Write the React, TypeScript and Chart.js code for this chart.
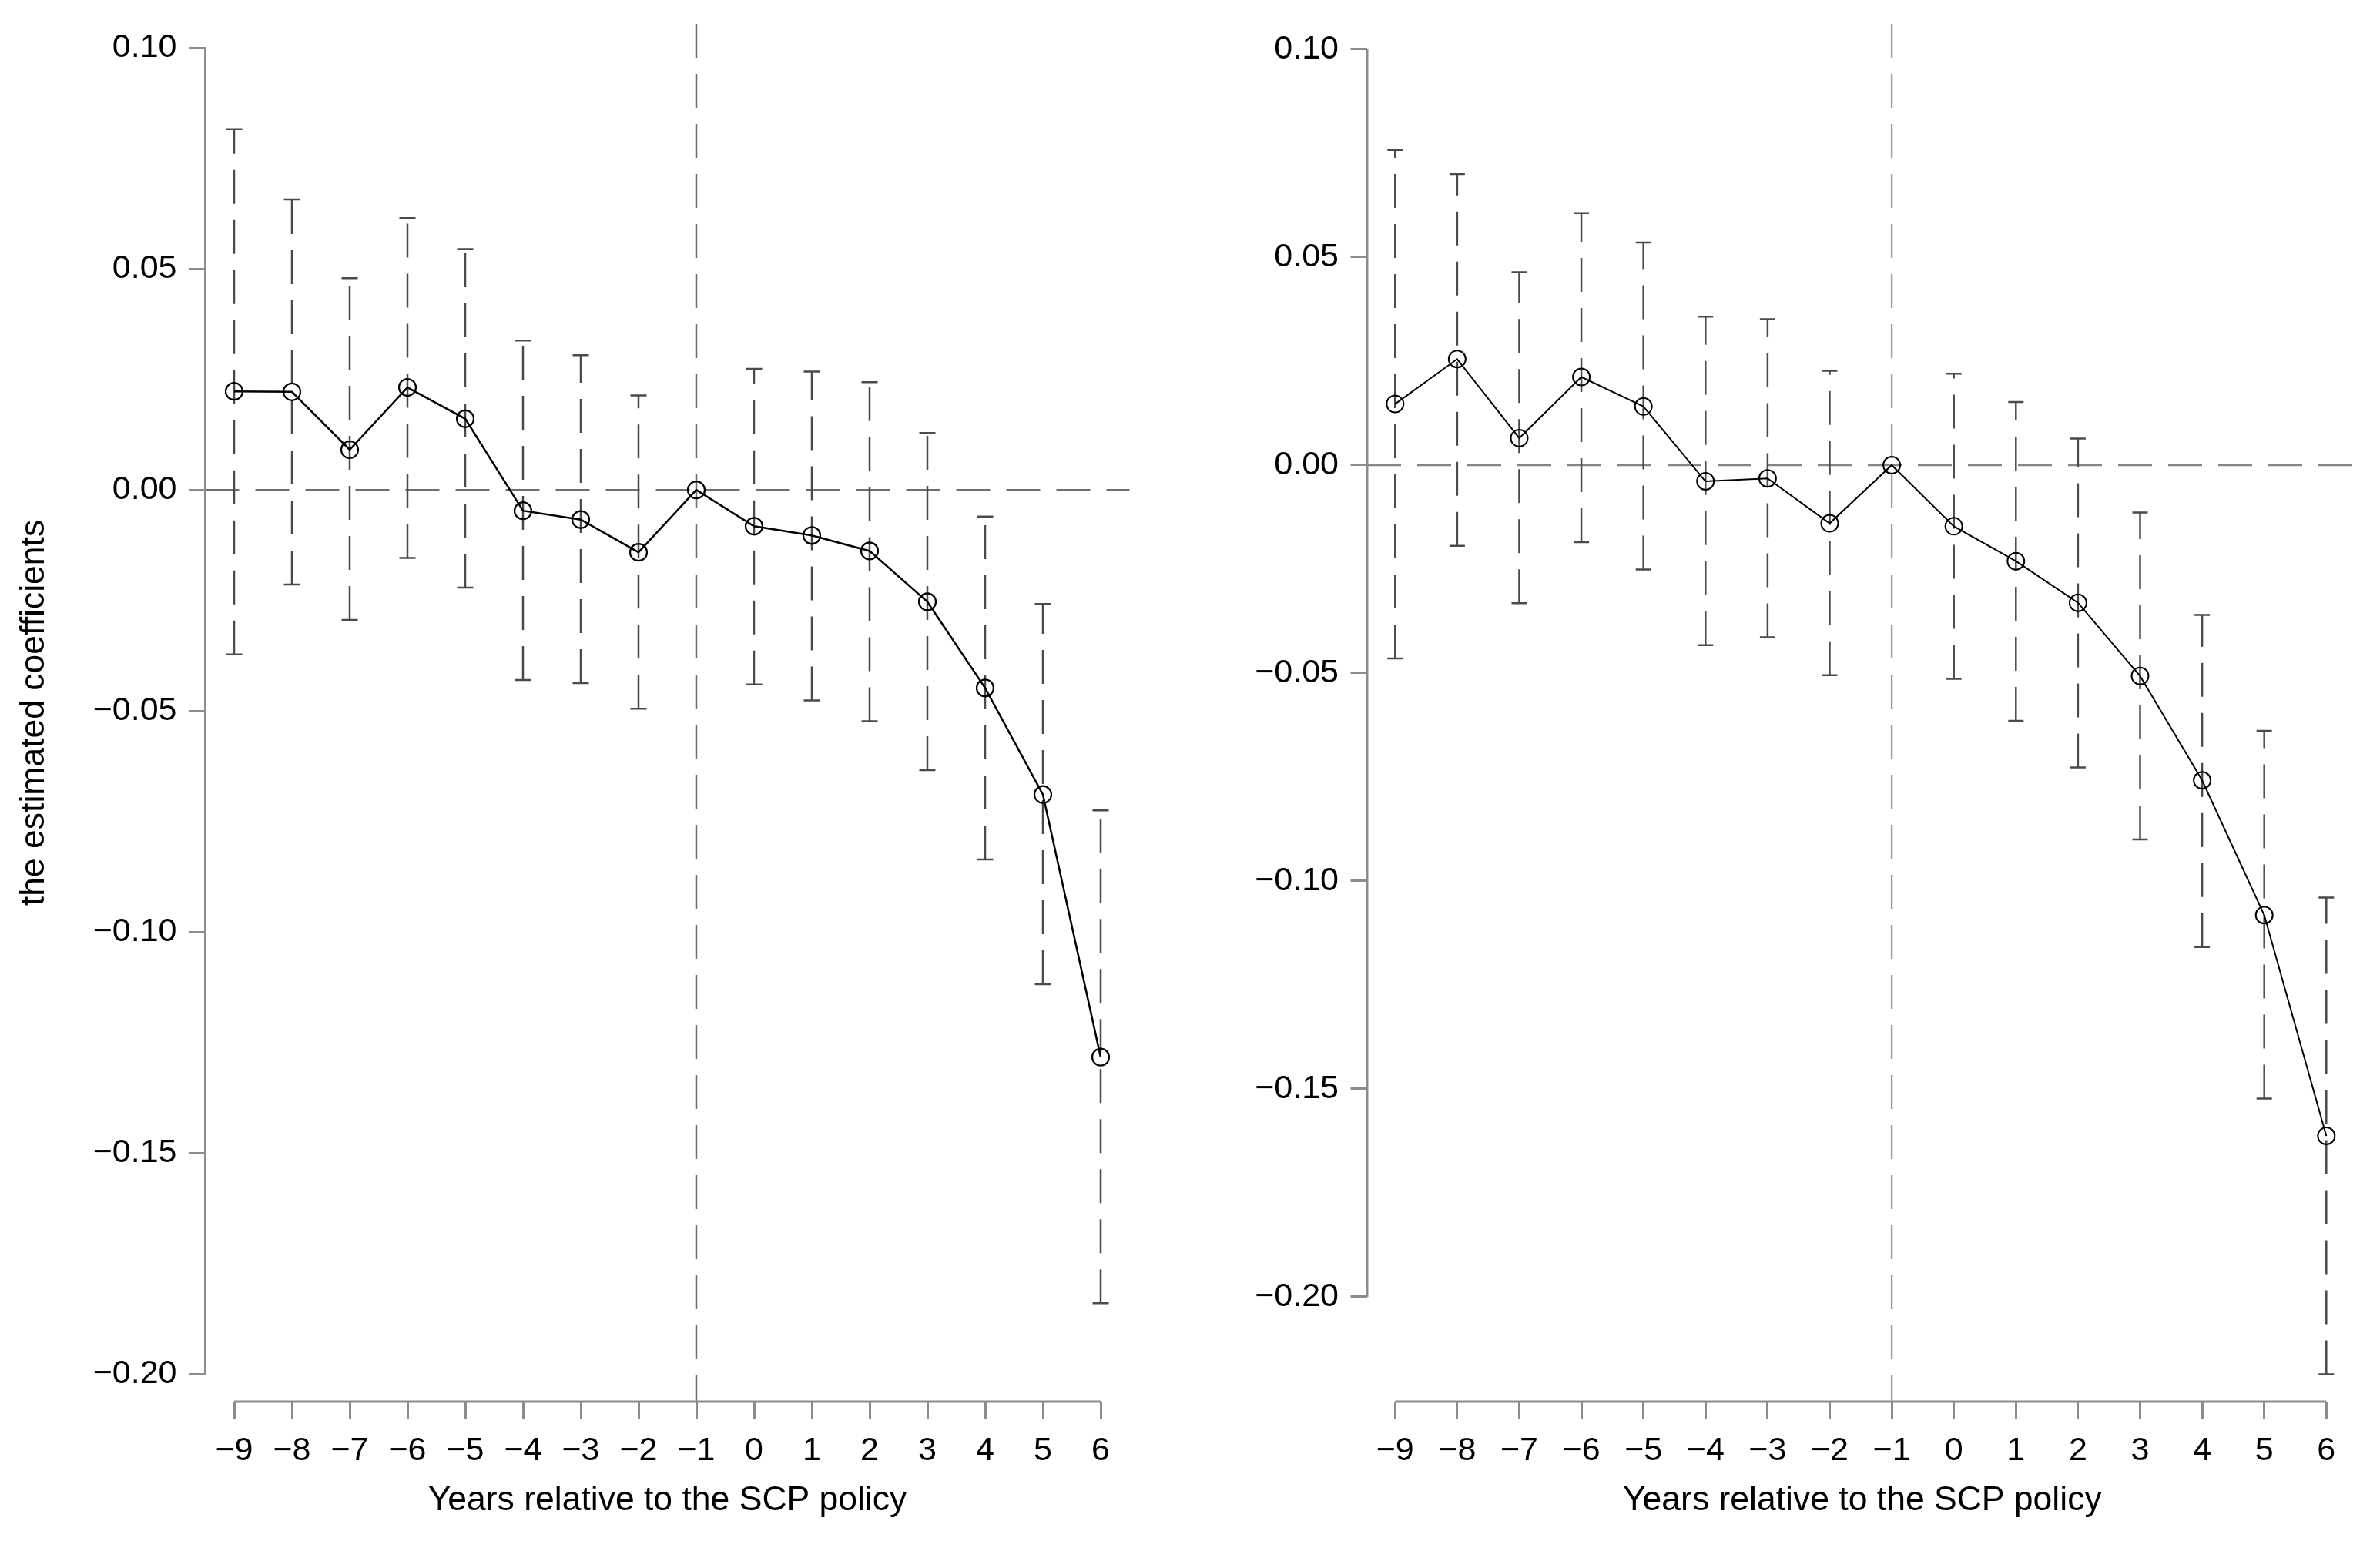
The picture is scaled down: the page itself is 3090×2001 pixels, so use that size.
import React, { useEffect, useRef } from "react";
import { Chart, registerables } from "chart.js";

Chart.register(...registerables);

// ---------------- data ----------------
const years = [-9, -8, -7, -6, -5, -4, -3, -2, -1, 0, 1, 2, 3, 4, 5, 6];
const yTickValues = [-0.2, -0.15, -0.1, -0.05, 0, 0.05, 0.1];
const referenceYear = -1;
const referenceLevel = 0;

const leftCoef = [0.0223, 0.0222, 0.0091, 0.0232, 0.0161, -0.0047, -0.0067, -0.0141, 0, -0.0082, -0.0103, -0.0138, -0.0253, -0.0448, -0.0689, -0.1283];
const leftUpper = [0.0816, 0.0657, 0.0479, 0.0615, 0.0545, 0.0338, 0.0305, 0.0214, null, 0.0274, 0.0268, 0.0244, 0.0129, -0.006, -0.0258, -0.0725];
const leftLower = [-0.0372, -0.0214, -0.0294, -0.0154, -0.0221, -0.043, -0.0437, -0.0495, null, -0.044, -0.0476, -0.0523, -0.0634, -0.0836, -0.1118, -0.184];

const rightCoef = [0.0147, 0.0255, 0.0065, 0.0212, 0.0141, -0.0039, -0.0032, -0.014, 0, -0.0147, -0.0231, -0.0331, -0.0507, -0.0758, -0.1082, -0.1613];
const rightUpper = [0.0758, 0.07, 0.0464, 0.0606, 0.0535, 0.0357, 0.0351, 0.0227, null, 0.022, 0.0152, 0.0064, -0.0114, -0.036, -0.0639, -0.104];
const rightLower = [-0.0465, -0.0194, -0.0332, -0.0185, -0.0251, -0.0433, -0.0414, -0.0505, null, -0.0514, -0.0615, -0.0727, -0.09, -0.1159, -0.1523, -0.2186];

const xAxisTitle = "Years relative to the SCP policy";
const yAxisTitle = "the estimated coefficients";

// ---------------- style ----------------
const FONT = "'Liberation Sans', Arial, Helvetica, sans-serif";
const AXIS_COLOR = "#8c8c8c";
const DASH = [44, 21];

type PanelCfg = {
  xMin: number;
  xMax: number;
  yMin: number;
  yMax: number;
  yWidth: number;
  padRight: number;
  yTitle?: string;
  lineWidth: number;
  pointBorder: number;
  hRefColor: string;
  vRefColor: string;
  errColor: string;
  errWidth: number;
  capHalf: number;
};

const leftCfg: PanelCfg = {
  xMin: -9.5,
  xMax: 6.5,
  yMin: -0.20624,
  yMax: 0.10544,
  yWidth: 266.5,
  padRight: 78.5,
  yTitle: yAxisTitle,
  lineWidth: 2.5,
  pointBorder: 2.2,
  hRefColor: "#6e6e6e",
  vRefColor: "#6e6e6e",
  errColor: "#4a4a4a",
  errWidth: 2.5,
  capHalf: 10.5,
};

const rightCfg: PanelCfg = {
  xMin: -9.45,
  xMax: 6.5,
  yMin: -0.22519,
  yMax: 0.10611,
  yWidth: 230,
  padRight: 29.4,
  lineWidth: 2,
  pointBorder: 2,
  hRefColor: "#858585",
  vRefColor: "#a3a3a3",
  errColor: "#4a4a4a",
  errWidth: 2.5,
  capHalf: 10,
};

const fmtX = (v: number) => (v < 0 ? "\u2212" + Math.abs(v) : String(v));
const fmtY = (v: number) => (v < 0 ? "\u2212" : "") + Math.abs(v).toFixed(2);

function Panel(props: {
  coef: number[];
  upper: (number | null)[];
  lower: (number | null)[];
  cfg: PanelCfg;
  left: number;
}) {
  const { coef, upper, lower, cfg, left } = props;
  const ref = useRef<HTMLCanvasElement | null>(null);

  useEffect(() => {
    const canvas = ref.current;
    if (!canvas) return;

    const decorPlugin = {
      id: "decor",
      beforeDatasetsDraw(chart: any) {
        const { ctx, chartArea: a, scales } = chart;
        const xs = scales.x;
        const ys = scales.y;
        ctx.save();
        ctx.lineCap = "butt";

        // reference lines
        ctx.lineWidth = 2.5;
        ctx.setLineDash(DASH);
        ctx.strokeStyle = cfg.hRefColor;
        const y0 = ys.getPixelForValue(referenceLevel);
        ctx.beginPath();
        ctx.moveTo(a.left, y0);
        ctx.lineTo(a.right, y0);
        ctx.stroke();
        ctx.strokeStyle = cfg.vRefColor;
        const xr = xs.getPixelForValue(referenceYear);
        ctx.beginPath();
        ctx.moveTo(xr, a.top);
        ctx.lineTo(xr, a.bottom);
        ctx.stroke();

        // error bars
        ctx.strokeStyle = cfg.errColor;
        ctx.lineWidth = cfg.errWidth;
        years.forEach((yr, i) => {
          const lo = lower[i];
          const hi = upper[i];
          if (lo == null || hi == null) return;
          const px = xs.getPixelForValue(yr);
          const pl = ys.getPixelForValue(lo);
          const pu = ys.getPixelForValue(hi);
          ctx.setLineDash(DASH);
          ctx.beginPath();
          ctx.moveTo(px, pl);
          ctx.lineTo(px, pu);
          ctx.stroke();
          ctx.setLineDash([]);
          ctx.beginPath();
          ctx.moveTo(px - cfg.capHalf, pl);
          ctx.lineTo(px + cfg.capHalf, pl);
          ctx.moveTo(px - cfg.capHalf, pu);
          ctx.lineTo(px + cfg.capHalf, pu);
          ctx.stroke();
        });

        // axis lines (first to last tick, R style)
        ctx.setLineDash([]);
        ctx.strokeStyle = AXIS_COLOR;
        ctx.lineWidth = 3;
        ctx.beginPath();
        ctx.moveTo(a.left, ys.getPixelForValue(yTickValues[0]));
        ctx.lineTo(a.left, ys.getPixelForValue(yTickValues[yTickValues.length - 1]));
        ctx.moveTo(xs.getPixelForValue(years[0]), a.bottom);
        ctx.lineTo(xs.getPixelForValue(years[years.length - 1]), a.bottom);
        ctx.stroke();
        ctx.restore();
      },
    };

    const chart = new Chart(canvas, {
      type: "line",
      data: {
        datasets: [
          {
            data: years.map((x, i) => ({ x, y: coef[i] })),
            borderColor: "#000000",
            borderWidth: cfg.lineWidth,
            pointRadius: 11,
            pointHoverRadius: 11,
            pointBorderWidth: cfg.pointBorder,
            pointBorderColor: "#000000",
            pointBackgroundColor: "rgba(0,0,0,0)",
            pointStyle: "circle",
            tension: 0,
            fill: false,
          },
        ],
      },
      options: {
        responsive: false,
        animation: false,
        devicePixelRatio: 1,
        events: [],
        layout: { padding: { left: 0, top: 31, right: cfg.padRight, bottom: 0 } },
        plugins: {
          legend: { display: false },
          tooltip: { enabled: false },
          title: { display: false },
        },
        scales: {
          x: {
            type: "linear",
            min: cfg.xMin,
            max: cfg.xMax,
            afterBuildTicks: (s: any) => {
              s.ticks = years.map((v) => ({ value: v }));
            },
            afterFit: (s: any) => {
              s.height = 181;
              s.paddingLeft = 0;
              s.paddingRight = 0;
            },
            ticks: {
              autoSkip: false,
              maxRotation: 0,
              minRotation: 0,
              padding: 15.7,
              color: "#000000",
              font: { family: FONT, size: 43 },
              callback: (v: any) => fmtX(Number(v)),
            },
            grid: {
              display: true,
              drawOnChartArea: false,
              drawTicks: true,
              tickLength: 23,
              color: AXIS_COLOR,
              lineWidth: 3,
            },
            border: { display: false },
            title: {
              display: true,
              text: xAxisTitle,
              color: "#000000",
              font: { family: FONT, size: 44.5 },
              padding: { top: 0, bottom: 25.3 },
            },
          },
          y: {
            type: "linear",
            min: cfg.yMin,
            max: cfg.yMax,
            afterBuildTicks: (s: any) => {
              s.ticks = yTickValues.map((v) => ({ value: v }));
            },
            afterFit: (s: any) => {
              s.width = cfg.yWidth;
              s.paddingTop = 0;
              s.paddingBottom = 0;
            },
            ticks: {
              padding: 15.5,
              color: "#000000",
              font: { family: FONT, size: 43 },
              callback: (v: any) => fmtY(Number(v)),
            },
            grid: {
              display: true,
              drawOnChartArea: false,
              drawTicks: true,
              tickLength: 21.5,
              color: AXIS_COLOR,
              lineWidth: 3,
            },
            border: { display: false },
            title: {
              display: !!cfg.yTitle,
              text: cfg.yTitle || "",
              color: "#000000",
              font: { family: FONT, size: 44.5 },
              padding: { top: 18.5, bottom: 0 },
            },
          },
        },
      },
      plugins: [decorPlugin],
    } as any);

    return () => chart.destroy();
  }, []);

  return (
    <canvas
      ref={ref}
      width={1545}
      height={2001}
      style={{ position: "absolute", left, top: 0, width: 1545, height: 2001, display: "block" }}
    />
  );
}

export default function App() {
  return (
    <div
      style={{
        position: "absolute",
        left: 0,
        top: 0,
        width: 3090,
        height: 2001,
        background: "#ffffff",
        overflow: "hidden",
      }}
    >
      <Panel coef={leftCoef} upper={leftUpper} lower={leftLower} cfg={leftCfg} left={0} />
      <Panel coef={rightCoef} upper={rightUpper} lower={rightLower} cfg={rightCfg} left={1545} />
    </div>
  );
}
